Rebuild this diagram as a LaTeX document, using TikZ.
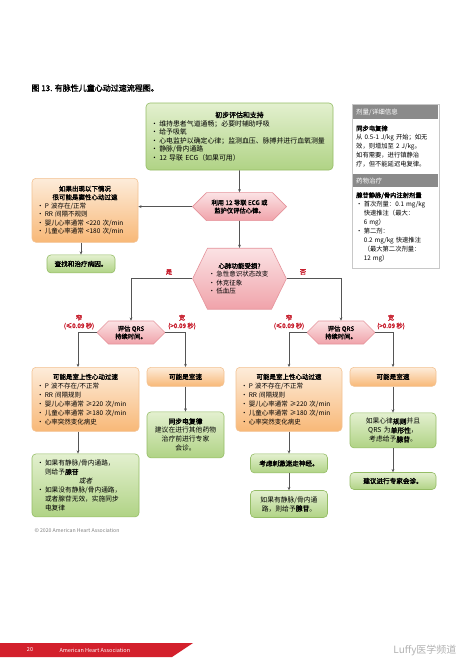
\documentclass[tikz,border=0pt]{standalone}
\usepackage{fontspec}
\setmainfont{Noto Sans CJK SC}[AutoFakeBold=2, AutoFakeSlant=0.2]
\usetikzlibrary{positioning, calc, arrows.meta, fit, backgrounds, shapes.symbols}
\definecolor{greentop}{HTML}{E3F0CF}
\definecolor{greenbot}{HTML}{B0D385}
\definecolor{greenline}{HTML}{95BD66}
\definecolor{orangetop}{HTML}{FDECDA}
\definecolor{orangebot}{HTML}{F8B877}
\definecolor{orangeline}{HTML}{F3C292}
\definecolor{pinktop}{HTML}{FBE2E4}
\definecolor{pinkbot}{HTML}{F0A3AA}
\definecolor{pinkline}{HTML}{E5939B}
\definecolor{labelred}{HTML}{C8202F}
\definecolor{headgray}{HTML}{8A8A8A}
\definecolor{panelline}{HTML}{C8C8C8}
\definecolor{linkgray}{HTML}{555555}
\definecolor{ahared}{HTML}{D3202C}
\newcommand{\bl}{\makebox[1.2em][l]{\textbullet}}
\newcommand{\ind}{\hspace*{1.2em}}

\begin{document}
\begin{tikzpicture}[
    x=1pt, y=-1pt,
    >={Stealth[length=3.2pt, width=2.8pt]},
    font=\fontsize{6.5}{8.5}\selectfont,
    link/.style={draw=linkgray, line width=0.6pt},
    box/.style={
        draw,
        rounded corners=4pt,
        align=center,
        inner xsep=5pt,
        inner ysep=2pt,
        line width=0.6pt
    },
    greenbox/.style={box, draw=greenline, top color=greentop, bottom color=greenbot},
    orangebox/.style={box, draw=orangeline, top color=orangetop, bottom color=orangebot},
    hexbox/.style={
        signal, signal to=west and east,
        draw=pinkline, line width=0.6pt,
        top color=pinktop, bottom color=pinkbot,
        align=center, inner sep=1pt
    },
    boldtext/.style={font=\fontsize{6.6}{8.5}\selectfont\bfseries},
    branch/.style={text=labelred, font=\fontsize{6.3}{8}\selectfont\bfseries, align=center, inner sep=0pt},
    panelhead/.style={fill=headgray, text=white, minimum width=85pt, text width=79pt,
        inner xsep=3pt, minimum height=13pt, align=left},
    panelbody/.style={text width=79pt, inner xsep=3pt, minimum width=85pt, align=left,
        font=\fontsize{6.3}{9}\selectfont}
]

\fill[white] (0,0) rectangle (474,670);
\useasboundingbox (0,0) rectangle (474,670);

\node[anchor=west, font=\fontsize{8}{10}\selectfont\bfseries] (title) at (28,88) {图 13. 有脉性儿童心动过速流程图。};

% top of the chart
\node[greenbox, text width=177pt, minimum height=67pt, align=left, font=\fontsize{6.9}{8.6}\selectfont] (init) at (239.5,136.5)
    {{\centering\bfseries 初步评估和支持\par}\bl 维持患者气道通畅；必要时辅助呼吸\\\bl 给予吸氧\\\bl 心电监护以确定心律；监测血压、脉搏并进行血氧测量\\\bl 静脉/骨内通路\\\bl 12 导联 ECG（如果可用）};
\node[hexbox, below=22pt of init, minimum width=94pt, minimum height=28pt, font=\fontsize{6.3}{8}\selectfont\bfseries] (ecg)
    {利用 12 导联 ECG 或\\监护仪评估心律。};
\node[hexbox, below=27pt of ecg, minimum width=90pt, minimum height=61pt, signal pointer angle=128, text width=62pt, align=left] (cpr)
    {{\centering\bfseries 心肺功能受损?\par}\bl 急性意识状态改变\\\bl 休克征象\\\bl 低血压};

% sinus tachycardia
\node[orangebox, anchor=north, text width=96pt, minimum height=64pt, align=left] (cond) at (85,178)
    {{\centering\bfseries 如果出现以下情况\\很可能是窦性心动过速\par}\bl P 波存在/正常\\\bl RR 间隔不规则\\\bl 婴儿心率通常 <220 次/min\\\bl 儿童心率通常 <180 次/min};
\node[greenbox, boldtext, below=12pt of cond, xshift=-4pt, minimum width=68pt, minimum height=18pt] (cause) {查找和治疗病因。};

% dose panel
\node[panelhead, anchor=north west] (hd1) at (353,105) {剂量/详细信息};
\node[panelbody, below=0pt of hd1, minimum height=55pt] (bd1)
    {\textbf{同步电复律}\\从 0.5-1 J/kg 开始；如无\\效，则增加至 2 J/kg。\\如有需要，进行镇静治\\疗，但不能延迟电复律。};
\node[panelhead, below=0pt of bd1] (hd2) {药物治疗};
\node[panelbody, below=0pt of hd2, minimum height=79pt] (bd2)
    {\textbf{腺苷静脉/骨内注射剂量}\\\bl 首次剂量：0.1 mg/kg\\\ind 快速推注（最大：\\\ind 6 mg）\\\bl 第二剂：\\\ind 0.2 mg/kg 快速推注\\\ind （最大第二次剂量：\\\ind 12 mg）};
\node[draw=panelline, line width=0.6pt, fit=(hd1)(bd2), inner sep=1pt] (panel) {};

% QRS
\node[hexbox, minimum width=68pt, minimum height=23pt, font=\fontsize{6.3}{7.8}\selectfont\bfseries] (qrsL) at (131,332.5) {评估 QRS\\持续时间。};
\node[hexbox, minimum width=68pt, minimum height=23pt, font=\fontsize{6.3}{7.8}\selectfont\bfseries] (qrsR) at (341,332.5) {评估 QRS\\持续时间。};
\coordinate (yesL) at (qrsL |- cpr.west);
\coordinate (noR) at (qrsR |- cpr.east);
\node[branch] (yes) at (169,272) {是};
\node[branch] (no) at (303,272) {否};
\coordinate (narL) at (78,332.5);
\coordinate (widL) at (185.5,332.5);
\coordinate (narR) at (289,332.5);
\coordinate (widR) at (393,332.5);
\node[branch] (narLt) at (79,322) {窄\\(≤0.09 秒)};
\node[branch] (widLt) at (182,322) {宽\\(>0.09 秒)};
\node[branch] (narRt) at (289,322) {窄\\(≤0.09 秒)};
\node[branch] (widRt) at (391,322) {宽\\(>0.09 秒)};

% left branch
\node[orangebox, anchor=north, text width=97pt, minimum height=64pt, align=left, font=\fontsize{6.5}{9}\selectfont] (svtL) at (85.5,367)
    {{\centering\bfseries 可能是室上性心动过速\par}\bl P 波不存在/不正常\\\bl RR 间隔规则\\\bl 婴儿心率通常 ≥220 次/min\\\bl 儿童心率通常 ≥180 次/min\\\bl 心率突然变化病史};
\node[orangebox, boldtext, anchor=north, minimum width=77pt, minimum height=19pt] (vtL) at (185.5,367) {可能是室速};
\node[greenbox, below=25pt of vtL, text width=67pt, minimum height=46pt, font=\fontsize{6.8}{9}\selectfont] (sync)
    {\textbf{同步电复律}\\建议在进行其他药物\\治疗前进行专家\\会诊。};
\node[greenbox, below=22pt of svtL, text width=97pt, minimum height=63pt, align=left, font=\fontsize{6.7}{9}\selectfont] (adenL)
    {\bl 如果有静脉/骨内通路，\\\ind 则给予\textbf{腺苷}\par{\centering\itshape 或者\par}\bl 如果没有静脉/骨内通路，\\\ind 或者腺苷无效，实施同步\\\ind 电复律};

% right branch
\node[orangebox, anchor=north, text width=96pt, minimum height=64pt, align=left, font=\fontsize{6.5}{9}\selectfont] (svtR) at (289,367)
    {{\centering\bfseries 可能是室上性心动过速\par}\bl P 波不存在/不正常\\\bl RR 间隔规则\\\bl 婴儿心率通常 ≥220 次/min\\\bl 儿童心率通常 ≥180 次/min\\\bl 心率突然变化病史};
\node[greenbox, boldtext, below=22pt of svtR, minimum width=77pt, minimum height=19pt] (vagal) {考虑刺激迷走神经。};
\node[greenbox, below=17pt of vagal, text width=67pt, minimum height=27pt, font=\fontsize{6.8}{9}\selectfont] (adenR)
    {如果有静脉/骨内通\\路，则给予\textbf{腺苷}。};
\node[orangebox, boldtext, anchor=north, minimum width=86pt, minimum height=19pt] (vtR) at (393,367) {可能是室速};
\node[greenbox, below=26pt of vtR, text width=76pt, minimum height=35pt, font=\fontsize{6.8}{9}\selectfont] (mono)
    {如果心律\textbf{规则}并且\\QRS 为\textbf{单形性}，\\考虑给予\textbf{腺苷}。};
\node[greenbox, boldtext, below=24pt of mono, minimum width=86pt, minimum height=17pt] (expert) {建议进行专家会诊。};

\draw[link,->] (init) -- (ecg);
\draw[link,->] (ecg) -- (cpr);
\draw[link,->] (ecg.west) -- (ecg.west -| cond.east);
\draw[link,->] (cond.south -| cause.north) -- (cause.north);
\draw[link,->] (cpr.west) -- (yesL) -- (qrsL.north);
\draw[link,->] (cpr.east) -- (noR) -- (qrsR.north);
\draw[link,->] (qrsL.west) -- (narL) -- (narL |- svtL.north);
\draw[link,->] (qrsL.east) -- (widL) -- (vtL.north);
\draw[link,->] (qrsR.west) -- (narR) -- (svtR.north);
\draw[link,->] (qrsR.east) -- (widR) -- (vtR.north);
\draw[link,->] (narL |- svtL.south) -- (narL |- adenL.north);
\draw[link,->] (vtL) -- (sync);
\draw[link,->] (svtR) -- (vagal);
\draw[link,->] (vagal) -- (adenR);
\draw[link,->] (vtR) -- (mono);
\draw[link,->] (mono) -- (expert);

% footer
\node[anchor=west, text=gray, font=\fontsize{5.2}{6}\selectfont] (copy) at (31,531) {© 2020 American Heart Association};
\fill[ahared] (0,643) -- (193,643) -- (172,657) -- (0,657) -- cycle;
\node[text=white, font=\fontsize{5.5}{6}\selectfont] (page) at (30,650) {20};
\node[anchor=west, text=white, font=\fontsize{5.5}{6}\selectfont] (aha) at (56,650) {American Heart Association};
\node[anchor=east, text=gray!60, font=\fontsize{10}{11}\selectfont] (mark) at (460,650) {Luffy医学频道};

\end{tikzpicture}
\end{document}
